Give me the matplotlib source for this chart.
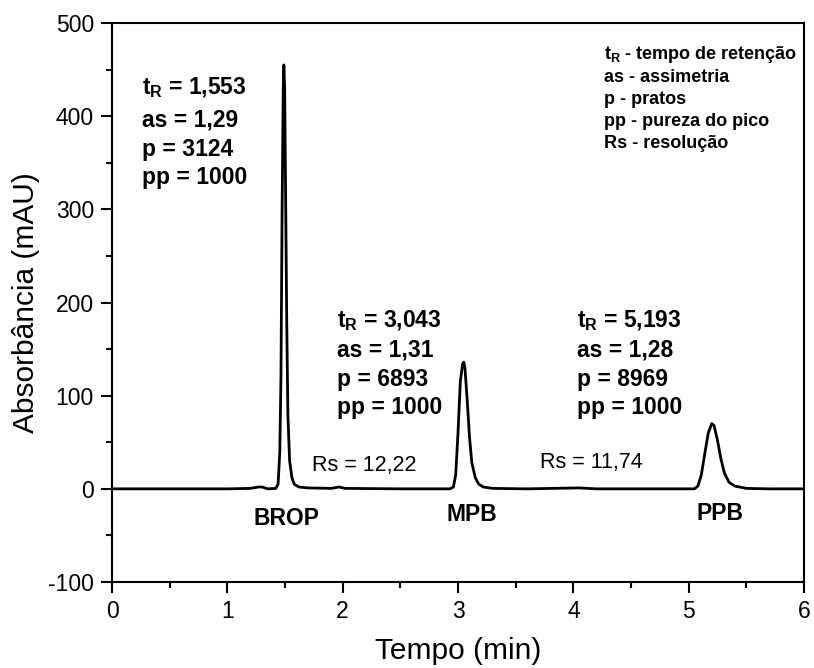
import matplotlib
matplotlib.use("Agg")
import matplotlib.pyplot as plt
from matplotlib.ticker import MultipleLocator

plt.rcParams['font.family'] = ['Liberation Sans', 'DejaVu Sans']
plt.rcParams['mathtext.fontset'] = 'custom'
plt.rcParams['mathtext.rm'] = 'Liberation Sans'
plt.rcParams['mathtext.bf'] = 'Liberation Sans:bold'
plt.rcParams['mathtext.it'] = 'Liberation Sans:italic'
plt.rcParams['axes.unicode_minus'] = False

# chromatogram trace
time_min = [0.0, 1.0, 1.2, 1.27, 1.3, 1.35, 1.42, 1.44, 1.455, 1.465, 1.475, 1.485, 1.49,
            1.497, 1.505, 1.515, 1.525, 1.54, 1.56, 1.58, 1.62, 1.7, 1.9, 1.97, 2.02, 2.5,
            2.93, 2.96, 2.98, 3.0, 3.02, 3.04, 3.05, 3.06, 3.08, 3.10, 3.12, 3.15, 3.18, 3.22,
            3.3, 3.6, 4.05, 4.2, 5.05, 5.08, 5.11, 5.14, 5.17, 5.20, 5.22, 5.25, 5.28, 5.31,
            5.35, 5.40, 5.5, 5.7, 6.0]
absorb = [0.0, 0.0, 0.5, 2.0, 2.0, 0.0, 0.5, 5.0, 40.0, 120.0, 300.0, 430.0, 455.0,
          430.0, 320.0, 180.0, 80.0, 30.0, 12.0, 5.0, 2.0, 1.0, 0.5, 2.0, 0.5, 0.0,
          0.0, 2.0, 15.0, 60.0, 115.0, 134.0, 136.0, 130.0, 95.0, 55.0, 28.0, 12.0, 5.0, 2.0,
          0.5, 0.0, 1.0, 0.0, 0.0, 3.0, 15.0, 38.0, 60.0, 70.0, 68.0, 52.0, 32.0, 17.0,
          7.0, 3.0, 0.5, 0.0, 0.0]

peak_names = ['BROP', 'MPB', 'PPB']
peak_label_x = [1.51, 3.12, 5.27]
peak_label_y = [-32, -28, -26]

tr_vals = ['1,553', '3,043', '5,193']
as_vals = ['1,29', '1,31', '1,28']
p_vals = ['3124', '6893', '8969']
pp_vals = ['1000', '1000', '1000']
block_x = [0.26, 1.95, 4.03]
block_y = [[431, 396, 364, 334], [181, 149, 117, 87], [181, 149, 117, 87]]

rs_texts = ['Rs = 12,22', 'Rs = 11,74']
rs_x = [2.19, 4.16]
rs_y = [25, 28]

legend_lines = [r'$\mathbf{t_R}$ - tempo de retenção', 'as - assimetria', 'p - pratos',
                'pp - pureza do pico', 'Rs - resolução']
legend_y = [466, 442, 418, 394, 371]
legend_x = 4.27

fig = plt.figure(figsize=(8.14, 6.68), dpi=100)
ax = fig.add_axes([0.1376, 0.1287, 0.8501, 0.8369])
ax.plot(time_min, absorb, color='black', lw=2.0)
ax.set_xlim(0, 6)
ax.set_ylim(-100, 500)
ax.xaxis.set_major_locator(MultipleLocator(1))
ax.xaxis.set_minor_locator(MultipleLocator(0.5))
ax.yaxis.set_major_locator(MultipleLocator(100))
ax.yaxis.set_minor_locator(MultipleLocator(50))
ax.tick_params(which='major', direction='out', length=8, width=1.5, labelsize=16.5, pad=5)
ax.tick_params(which='minor', direction='out', length=4, width=1.5)
for s in ax.spines.values():
    s.set_linewidth(1.5)
ax.set_xlabel('Tempo (min)', fontsize=21.5, labelpad=10)
ax.set_ylabel('Absorbância (mAU)', fontsize=21.5, labelpad=6)

for i in range(3):
    lines = [r'$\mathbf{t_R}$ = ' + tr_vals[i], 'as = ' + as_vals[i],
             'p = ' + p_vals[i], 'pp = ' + pp_vals[i]]
    for t, yy in zip(lines, block_y[i]):
        ax.text(block_x[i], yy, t, fontsize=16.5, fontweight='bold', ha='left', va='center')
    ax.text(peak_label_x[i], peak_label_y[i], peak_names[i], fontsize=16.5,
            fontweight='bold', ha='center', va='center')

for t, xx, yy in zip(rs_texts, rs_x, rs_y):
    ax.text(xx, yy, t, fontsize=15.5, ha='center', va='center')

for t, yy in zip(legend_lines, legend_y):
    ax.text(legend_x, yy, t, fontsize=13, fontweight='bold', ha='left', va='center')

fig.savefig('out.png', dpi=100)
